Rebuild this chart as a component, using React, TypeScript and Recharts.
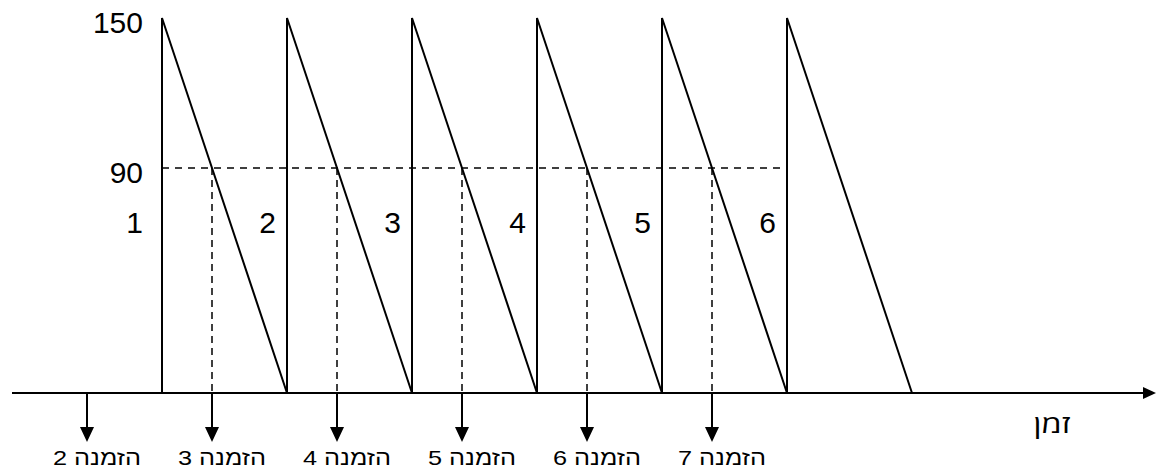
import React from 'react';
import { ComposedChart, Line, Scatter, XAxis, YAxis, ReferenceLine } from 'recharts';

// Inventory sawtooth (time, level)
const sawTime = [0, 0, 5, 5, 10, 10, 15, 15, 20, 20, 25, 25, 30];
const sawLevel = [0, 150, 0, 150, 0, 150, 0, 150, 0, 150, 0, 150, 0];

// Level labels on the left
const levelTicks = [150, 90];
const levelTickLabels = ['150', '90'];

// Cycle numbers
const cycleStarts = [0, 5, 10, 15, 20, 25];
const cycleLabels = ['1', '2', '3', '4', '5', '6'];
const cycleLabelLevel = 68;

// Reorder point
const reorderLevel = 90;
const reorderLineStart = 0;
const reorderLineEnd = 25;

// Orders
const orderTimes = [-3, 2, 7, 12, 17, 22];
const orderLabels = ['הזמנה 2', 'הזמנה 3', 'הזמנה 4', 'הזמנה 5', 'הזמנה 6', 'הזמנה 7'];

// Time axis
const axisStart = -6;
const axisEnd = 39.76;
const axisTitle = 'זמן';
const axisTitleTime = 35.6;

const xDomain = [-6.48, 39.76];
const yDomain = [-30.8, 157.2];

const NUM_FONT = '"Liberation Sans", Arial, sans-serif';
const TITLE_FONT = '"Open Sans", "DejaVu Sans", sans-serif';

const sawData = sawTime.map((t, i) => ({ t, v: sawLevel[i] }));
const reorderData = [{ t: reorderLineStart, v: reorderLevel }, { t: reorderLineEnd, v: reorderLevel }];
const orderData = orderTimes.map((t, i) => ({ t, v: 0, label: orderLabels[i] }));
const levelData = levelTicks.map((v, i) => ({ t: 0, v, label: levelTickLabels[i] }));
const cycleData = cycleStarts.map((t, i) => ({ t, v: cycleLabelLevel, label: cycleLabels[i], first: i === 0 }));
const arrowTipData = [{ t: axisEnd, v: 0 }];
const titleData = [{ t: axisTitleTime, v: 0, label: axisTitle }];

const OrderArrow = (props: any) => {
  const { cx, cy, payload } = props;
  return (
    <g>
      <line x1={cx} y1={cy} x2={cx} y2={cy + 36} stroke="#000" strokeWidth={2} />
      <polygon points={`${cx - 7},${cy + 34} ${cx + 7},${cy + 34} ${cx},${cy + 49}`} fill="#000" />
      <text
        x={cx + 10}
        y={cy + 72}
        textAnchor="middle"
        direction="rtl"
        style={{ direction: 'rtl', unicodeBidi: 'embed' }}
        fontFamily={NUM_FONT}
        fontSize={21}
        textLength={88}
        lengthAdjust="spacingAndGlyphs"
        fill="#000"
      >
        {payload.label}
      </text>
    </g>
  );
};

const LevelLabel = (props: any) => {
  const { cx, cy, payload } = props;
  return (
    <text x={cx - 19} y={cy + 15} textAnchor="end" fontFamily={NUM_FONT} fontSize={30} fill="#000">
      {payload.label}
    </text>
  );
};

const CycleLabel = (props: any) => {
  const { cx, cy, payload } = props;
  return (
    <text
      x={cx - (payload.first ? 19 : 11)}
      y={cy + 10}
      textAnchor="end"
      fontFamily={NUM_FONT}
      fontSize={30}
      fill="#000"
    >
      {payload.label}
    </text>
  );
};

const ArrowTip = (props: any) => {
  const { cx, cy } = props;
  return <polygon points={`${cx - 13},${cy - 6} ${cx},${cy} ${cx - 13},${cy + 6}`} fill="#000" />;
};

const AxisTitle = (props: any) => {
  const { cx, cy, payload } = props;
  return (
    <text
      x={cx}
      y={cy + 40}
      textAnchor="middle"
      direction="rtl"
      style={{ direction: 'rtl', unicodeBidi: 'embed', fontWeight: 400 }}
      fontFamily={TITLE_FONT}
      fontSize={25}
      textLength={37}
      lengthAdjust="spacingAndGlyphs"
      fill="#000"
    >
      {payload.label}
    </text>
  );
};

export default function App() {
  return (
    <div style={{ position: 'absolute', left: 0, top: 0, width: 1156, height: 470, background: '#fff' }}>
      <ComposedChart width={1156} height={470} margin={{ top: 0, right: 0, bottom: 0, left: 0 }}>
        <XAxis type="number" dataKey="t" domain={xDomain} allowDataOverflow hide />
        <YAxis type="number" dataKey="v" domain={yDomain} allowDataOverflow hide />
        <ReferenceLine
          segment={[{ x: axisStart, y: 0 }, { x: axisEnd - 0.4, y: 0 }]}
          stroke="#000"
          strokeWidth={2}
        />
        {orderTimes.slice(1).map((t) => (
          <ReferenceLine
            key={t}
            segment={[{ x: t, y: reorderLevel }, { x: t, y: 0 }]}
            stroke="#000"
            strokeWidth={1.5}
            strokeDasharray="7 5"
          />
        ))}
        <Line data={reorderData} dataKey="v" stroke="#000" strokeWidth={1.5} strokeDasharray="7 6" dot={false} activeDot={false} isAnimationActive={false} />
        <Line data={sawData} dataKey="v" stroke="#000" strokeWidth={2} dot={false} activeDot={false} isAnimationActive={false} />
        <Scatter data={arrowTipData} dataKey="v" shape={ArrowTip} isAnimationActive={false} />
        <Scatter data={orderData} dataKey="v" shape={OrderArrow} isAnimationActive={false} />
        <Scatter data={levelData} dataKey="v" shape={LevelLabel} isAnimationActive={false} />
        <Scatter data={cycleData} dataKey="v" shape={CycleLabel} isAnimationActive={false} />
        <Scatter data={titleData} dataKey="v" shape={AxisTitle} isAnimationActive={false} />
      </ComposedChart>
    </div>
  );
}
